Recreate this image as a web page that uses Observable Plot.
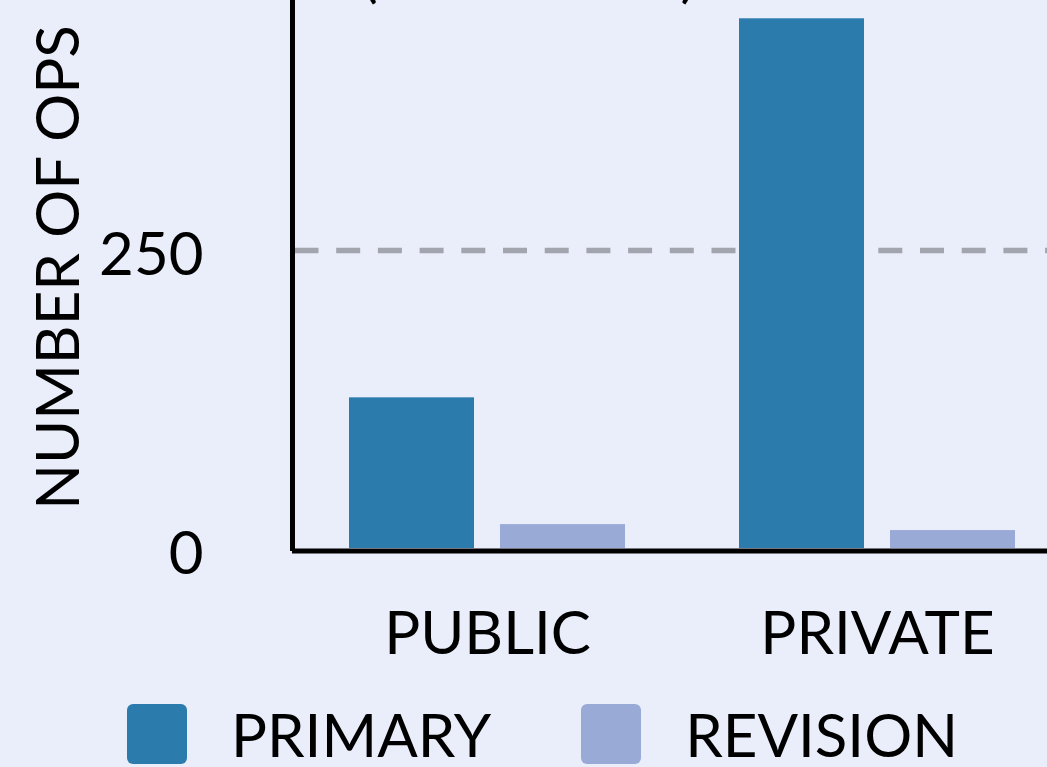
<!DOCTYPE html>
<html>
<head>
<meta charset="utf-8">
<script src="https://cdn.jsdelivr.net/npm/d3@7"></script>
<script src="https://cdn.jsdelivr.net/npm/@observablehq/plot@0.6"></script>
<style>
  html, body { margin: 0; padding: 0; width: 1047px; height: 767px; overflow: hidden; background: #eaeefa; font-family: Lato, sans-serif; }
  #title { position: absolute; top: -55px; left: 529px; transform: translateX(-50%); font-size: 58px; line-height: 1; white-space: nowrap; color: #000; }
  #chart { position: absolute; top: -64px; left: 0; width: 1072px; }
  #chart svg { max-width: none !important; width: 1072px; height: 732px; }
  #legend { position: absolute; top: 704px; left: 127px; display: flex; align-items: center; font-size: 60px; line-height: 1; color: #000; }
  .sw { width: 60px; height: 60px; border-radius: 6px; margin-right: 44px; }
  .item { display: flex; align-items: center; margin-right: 90px; }
</style>
</head>
<body>
<div id="title">(2015–2020)</div>
<div id="chart"></div>
<div id="legend"></div>
<script>
const groups = ["PUBLIC", "PRIVATE"];
const series = ["PRIMARY", "REVISION"];
const primaryValues = [126, 443];
const revisionValues = [20, 15];
const yTicks = [0, 250];
const gridValue = 250;
const colors = ["#2c7bad", "#99aad6"];

const data = [];
groups.forEach((g, i) => {
  data.push({group: g, series: series[0], value: primaryValues[i]});
  data.push({group: g, series: series[1], value: revisionValues[i]});
});

const gridStyle = {y: "value", fx: "group", stroke: "#a3a5ae", strokeOpacity: 1, strokeWidth: 5.5, strokeDasharray: "24,17.7", dy: 1};

const plot = Plot.plot({
  width: 1072,
  height: 732,
  marginLeft: 292,
  marginRight: 0,
  marginTop: 50,
  marginBottom: 120,
  style: {background: "transparent", fontFamily: "Lato, sans-serif", color: "#000", overflow: "visible"},
  fx: {domain: groups, padding: 0, label: null},
  x: {domain: series, paddingInner: 0.17, paddingOuter: 0.368, axis: null},
  y: {domain: [0, 470], axis: null},
  color: {domain: series, range: colors},
  marks: [
    Plot.ruleY([{group: groups[0], value: gridValue}], {...gridStyle, strokeDashoffset: -2.5}),
    Plot.ruleY([{group: groups[1], value: gridValue}], {...gridStyle, strokeDashoffset: 12.2}),
    Plot.barY(data, {fx: "group", x: "series", y: "value", fill: "series"}),
    Plot.ruleY([0], {stroke: "#000", strokeWidth: 5, dy: 2.5}),
    Plot.frame({anchor: "left", stroke: "#000", strokeWidth: 5, facetAnchor: "left"}),
    Plot.axisY({ticks: yTicks, tickSize: 0, tickPadding: 89, fontSize: 60, dy: 6, label: "NUMBER OF OPS", labelAnchor: "center", labelArrow: "none", labelOffset: 256}),
    Plot.axisFx({anchor: "bottom", tickSize: 0, tickPadding: 63, fontSize: 60, label: null})
  ]
});
document.getElementById("chart").appendChild(plot);

const legend = document.getElementById("legend");
series.forEach((s, i) => {
  const item = document.createElement("div");
  item.className = "item";
  const sw = document.createElement("div");
  sw.className = "sw";
  sw.style.background = colors[i];
  const t = document.createElement("span");
  t.textContent = s;
  item.appendChild(sw);
  item.appendChild(t);
  legend.appendChild(item);
});
</script>
</body>
</html>
